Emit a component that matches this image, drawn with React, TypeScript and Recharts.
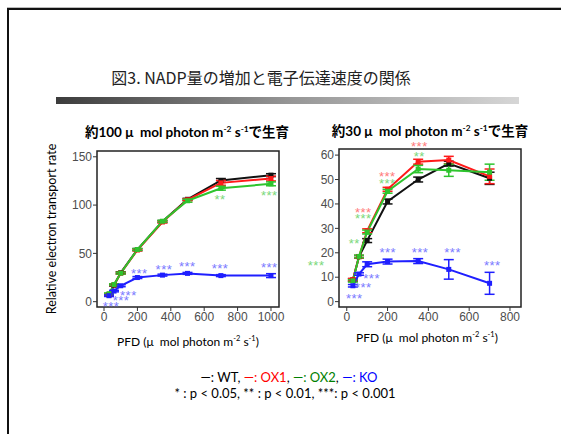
import React from 'react';
import { LineChart, Line, XAxis, YAxis, ErrorBar, ReferenceArea, ReferenceDot } from 'recharts';

// 約100 μmol photon で生育
const pfdHigh = [30, 60, 100, 200, 350, 500, 700, 1000];
const wtHigh = [7, 17, 30, 54, 83, 106, 125.5, 131];
const wtHighErr = [0.8, 0.8, 1, 1, 1, 1, 2, 1.5];
const ox1High = [7.5, 17.5, 29.5, 53.5, 82.5, 105.5, 123, 127.5];
const ox1HighErr = [0.8, 0.8, 1, 1, 1, 1, 2.5, 2.5];
const ox2High = [8.3, 17.8, 29.5, 54, 83.3, 104.5, 117.5, 122];
const ox2HighErr = [0.8, 0.8, 1, 1, 1, 1.5, 2, 2];
const koHigh = [6.2, 11, 16.5, 25, 27.5, 29.3, 27, 27];
const koHighErr = [0.8, 0.8, 1, 1, 1, 1, 1, 2];

// 約30 μmol photon で生育
const pfdLow = [30, 60, 100, 200, 350, 500, 700];
const wtLow = [8.9, 18.4, 25, 41, 50, 56.5, 50.5];
const wtLowErr = [0.5, 0.5, 0.8, 1, 1, 1, 2.5];
const ox1Low = [9, 18.4, 29, 46, 57.3, 58, 51.3];
const ox1LowErr = [0.5, 0.5, 0.8, 0.8, 1, 1.5, 3];
const ox2Low = [8.5, 18.5, 28.5, 45.2, 54.3, 53.8, 53];
const ox2LowErr = [0.5, 0.5, 0.8, 0.8, 1.5, 2.5, 3.3];
const koLow = [6.5, 11.3, 15.3, 16.4, 16.6, 13.2, 7.5];
const koLowErr = [0.5, 0.5, 1, 1, 1, 4, 4.5];

// significance marks: [pfd, y, mark]
const koStarsHigh: [number, number, string][] = [
  [42, -1.7, '***'], [102, 4.5, '***'], [146, 10, '***'], [211, 32.8, '***'],
  [359, 37, '***'], [499, 39.7, '***'], [695, 37.6, '***'], [990, 38.7, '***'],
];
const ox2StarsHigh: [number, number, string][] = [
  [695, 109.3, '**'], [990, 112.8, '***'],
];
const koStarsLow: [number, number, string][] = [
  [37, 2.7, '***'], [81, 7.1, '***'], [122, 10.6, '***'], [201, 21.4, '***'],
  [359, 21.5, '***'], [519, 21.4, '***'], [713, 16.1, '***'],
];
const ox1StarsLow: [number, number, string][] = [
  [356, 64.6, '***'], [199, 52.4, '***'], [81, 37.7, '***'],
];
const ox2StarsLow: [number, number, string][] = [
  [356, 60.8, '**'], [199, 49.8, '***'], [81, 35.3, '***'], [37, 25.2, '**'], [-150, 16.1, '***'],
];

const highRows = pfdHigh.map((p, i) => ({
  pfd: p,
  wt: wtHigh[i], wtErr: wtHighErr[i],
  ox1: ox1High[i], ox1Err: ox1HighErr[i],
  ox2: ox2High[i], ox2Err: ox2HighErr[i],
  ko: koHigh[i], koErr: koHighErr[i],
}));
const lowRows = pfdLow.map((p, i) => ({
  pfd: p,
  wt: wtLow[i], wtErr: wtLowErr[i],
  ox1: ox1Low[i], ox1Err: ox1LowErr[i],
  ox2: ox2Low[i], ox2Err: ox2LowErr[i],
  ko: koLow[i], koErr: koLowErr[i],
}));

const colors = { wt: '#111111', ox1: '#ff1a1a', ox2: '#2ec42e', ko: '#1f1fff' };
const starColors = { ox1: '#ff7a7a', ox2: '#7ad87a', ko: '#7a7aff' };

const sans = '"Liberation Sans", Arial, sans-serif';
const latin = 'Lato, "Noto Sans CJK JP", sans-serif';

const squareDot = (color: string) => (p: any) => (
  <rect key={`${p.dataKey}-${p.index}`} x={p.cx - 2.5} y={p.cy - 2.5} width={5} height={5} fill={color} />
);

const series = (keys: string[]) =>
  keys.map((k) => (
    <Line
      key={k}
      type="linear"
      dataKey={k}
      stroke={(colors as any)[k]}
      strokeWidth={2}
      dot={squareDot((colors as any)[k])}
      activeDot={false}
      isAnimationActive={false}
    >
      <ErrorBar dataKey={`${k}Err`} width={5} stroke={(colors as any)[k]} strokeWidth={1.5} direction="y" />
    </Line>
  ));

const stars = (list: [number, number, string][], color: string, prefix: string) =>
  list.map(([x, y, mark], i) => (
    <ReferenceDot
      key={`${prefix}-${i}`}
      x={x}
      y={y}
      r={1}
      fill="none"
      stroke="none"
      ifOverflow="visible"
      label={{ value: mark, position: 'center', fill: color, fontSize: 13, letterSpacing: 0.5, dy: 3, fontFamily: sans }}
    />
  ));

const tickStyle = { fill: '#4d4d4d', fontSize: 12, fontFamily: sans };

const Sup = ({ children }: { children: React.ReactNode }) => (
  <sup style={{ fontSize: '0.62em', verticalAlign: 'super', lineHeight: 0 }}>{children}</sup>
);

const pfdLabel = (
  <span>
    PFD (μ&nbsp; mol photon m<Sup>-2</Sup> s<Sup>-1</Sup>)
  </span>
);

export default function App() {
  return (
    <div style={{ position: 'absolute', left: 0, top: 0, width: 561, height: 434, background: '#fff', overflow: 'hidden' }}>
      {/* slide frame */}
      <div style={{ position: 'absolute', left: 7, top: 7, width: 560, height: 1, background: '#bbb' }} />
      <div style={{ position: 'absolute', left: 7, top: 8, width: 560, height: 2, background: '#111' }} />
      <div style={{ position: 'absolute', left: 7, top: 8, width: 2, height: 430, background: '#111' }} />

      <div style={{ position: 'absolute', left: 0, width: 522, top: 65, textAlign: 'center', fontFamily: '"Noto Sans CJK JP", sans-serif', fontSize: 16, color: '#222', lineHeight: '24px' }}>
        図3. NADP量の増加と電子伝達速度の関係
      </div>
      <div style={{ position: 'absolute', left: 56, top: 97, width: 463, height: 7, background: 'linear-gradient(to right, #3c3c3c, #959595 50%, #d6d6d6)' }} />

      <div style={{ position: 'absolute', left: 37, width: 300, top: 121, textAlign: 'center', fontFamily: latin, fontWeight: 700, fontSize: 13.5, color: '#000' }}>
        約100 μ&nbsp; mol photon m<Sup>-2</Sup> s<Sup>-1</Sup>で生育
      </div>
      <div style={{ position: 'absolute', left: 280, width: 300, top: 120, textAlign: 'center', fontFamily: latin, fontWeight: 700, fontSize: 13.5, color: '#000' }}>
        約30 μ&nbsp; mol photon m<Sup>-2</Sup> s<Sup>-1</Sup>で生育
      </div>

      <div style={{ position: 'absolute', left: 52 - 100, top: 229 - 8, width: 200, height: 16, textAlign: 'center', transform: 'rotate(-90deg)', fontFamily: latin, fontSize: 12.5, lineHeight: '16px', color: '#000' }}>
        Relative electron transport rate
      </div>

      <div style={{ position: 'absolute', left: 40, top: 130 }}>
        <LineChart width={250} height={210} data={highRows} margin={{ top: 21, right: 11, bottom: 8, left: 0 }}>
          <XAxis type="number" dataKey="pfd" domain={[-42, 1048]} ticks={[0, 200, 400, 600, 800, 1000]} axisLine={false} tickSize={4} tickMargin={1} tickLine={{ stroke: '#333' }} tick={tickStyle} height={25} />
          <YAxis type="number" domain={[-5.5, 156]} ticks={[0, 50, 100, 150]} axisLine={false} tickSize={4} tickMargin={1} tickLine={{ stroke: '#333' }} tick={tickStyle} width={57} />
          <ReferenceArea x1={-42} x2={1048} y1={-5.5} y2={156} fill="none" stroke="#222" strokeWidth={1.5} ifOverflow="visible" />
          {series(['wt', 'ox1', 'ox2', 'ko'])}
          {stars(koStarsHigh, starColors.ko, 'kh')}
          {stars(ox2StarsHigh, starColors.ox2, 'gh')}
        </LineChart>
      </div>

      <div style={{ position: 'absolute', left: 300, top: 130 }}>
        <LineChart width={240} height={210} data={lowRows} margin={{ top: 19, right: 19, bottom: 8, left: 0 }}>
          <XAxis type="number" dataKey="pfd" domain={[-38, 854]} ticks={[0, 200, 400, 600, 800]} axisLine={false} tickSize={4} tickMargin={1} tickLine={{ stroke: '#333' }} tick={tickStyle} height={25} />
          <YAxis type="number" domain={[-2.2, 62.5]} ticks={[0, 10, 20, 30, 40, 50, 60]} axisLine={false} tickSize={4} tickMargin={1} tickLine={{ stroke: '#333' }} tick={tickStyle} width={39} />
          <ReferenceArea x1={-38} x2={854} y1={-2.2} y2={62.5} fill="none" stroke="#222" strokeWidth={1.5} ifOverflow="visible" />
          {series(['wt', 'ox1', 'ox2', 'ko'])}
          {stars(koStarsLow, starColors.ko, 'kl')}
          {stars(ox1StarsLow, starColors.ox1, 'rl')}
          {stars(ox2StarsLow, starColors.ox2, 'gl')}
        </LineChart>
      </div>

      <div style={{ position: 'absolute', left: 88, width: 200, top: 334, textAlign: 'center', fontFamily: latin, fontSize: 12, color: '#000' }}>
        {pfdLabel}
      </div>
      <div style={{ position: 'absolute', left: 327, width: 200, top: 330, textAlign: 'center', fontFamily: latin, fontSize: 12, color: '#000' }}>
        {pfdLabel}
      </div>

      <div style={{ position: 'absolute', left: 0, width: 570, top: 369, textAlign: 'center', fontFamily: latin, fontSize: 13, lineHeight: '16px', color: '#000' }}>
        <div style={{ marginLeft: 8 }}>
          <span>—: WT, </span>
          <span style={{ color: '#ff0000' }}>—: OX1</span>, <span style={{ color: '#008000' }}>—: OX2</span>, <span style={{ color: '#0000ff' }}>—: KO</span>
        </div>
        <div>* : p &lt; 0.05, ** : p &lt; 0.01, ***: p &lt; 0.001</div>
      </div>
    </div>
  );
}
